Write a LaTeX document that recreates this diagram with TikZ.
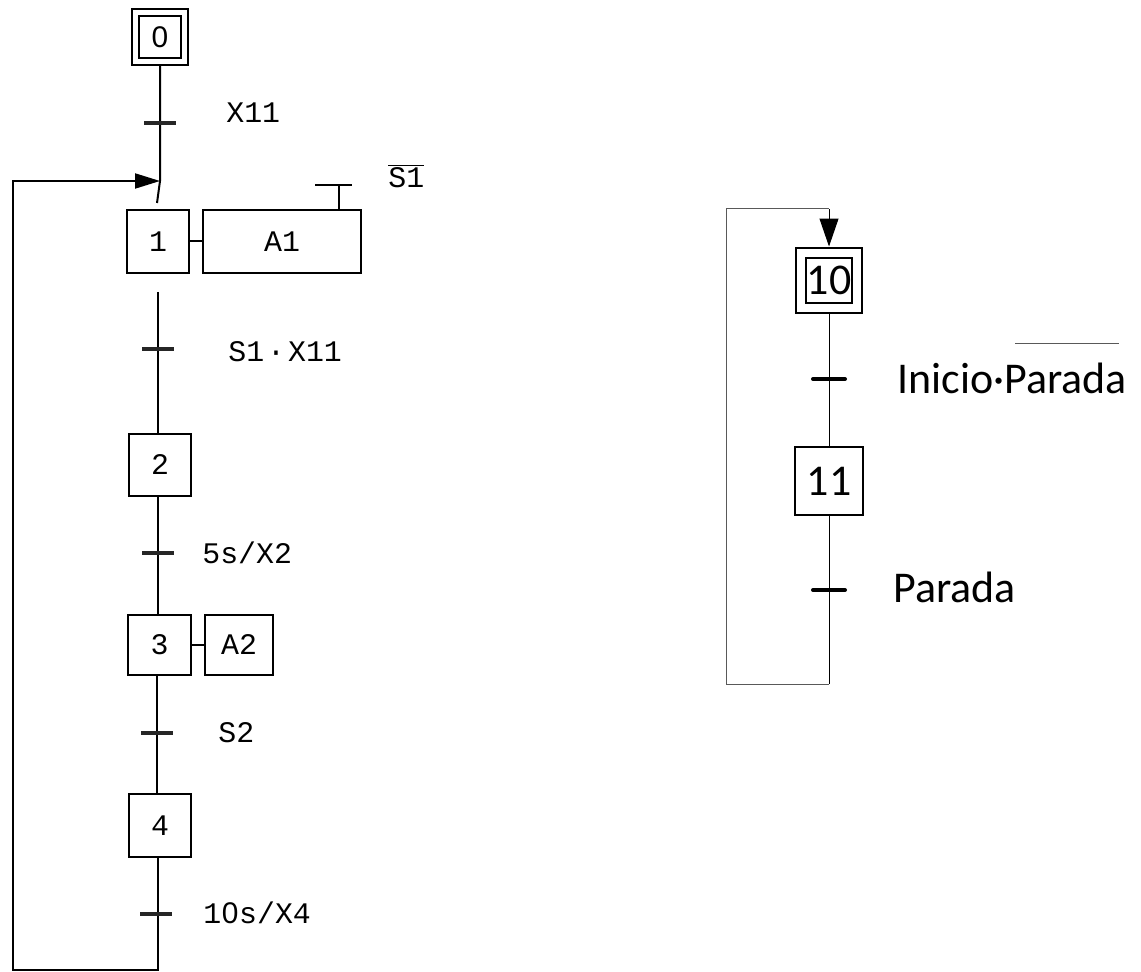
\documentclass[tikz,border=0pt]{standalone}
\usepackage{fontspec}
\usetikzlibrary{arrows.meta}
\newfontfamily\gfont{Liberation Mono}
\newfontfamily\zfont{Liberation Sans}
\newfontfamily\cfont{Carlito}
\newcommand\plainzero{\makebox[0.6em]{\zfont 0}}
\begin{document}
\begin{tikzpicture}[x=0.02cm,y=-0.02cm,
  gtext/.style={font=\gfont\fontsize{17}{20}\selectfont},
  ctext/.style={font=\cfont\fontsize{25}{30}\selectfont},
  stepL/.style={draw, line width=0.04cm, minimum width=1.26cm, minimum height=1.26cm, inner sep=0pt, gtext},
  initL/.style={draw, line width=0.04cm, double=white, double distance=0.1cm, minimum width=0.98cm, minimum height=0.98cm, outer sep=0.09cm, inner sep=0pt, gtext},
  actL/.style={draw, line width=0.04cm, minimum height=1.26cm, inner sep=0pt, gtext},
  stepR/.style={draw, line width=0.04cm, minimum width=1.36cm, minimum height=1.36cm, inner sep=0pt, ctext},
  initR/.style={draw, line width=0.04cm, double=white, double distance=0.16cm, minimum width=1.12cm, minimum height=1.12cm, outer sep=0.12cm, inner sep=0pt, ctext},
  linkL/.style={line width=0.04cm},
  linkR/.style={line width=0.02cm},
  loopR/.style={line width=0.02cm, draw=black!65},
  tbarL/.style={line width=0.07cm, draw=black!85},
  tbarR/.style={line width=0.08cm, line cap=round},
  lblL/.style={anchor=west, gtext, inner sep=0pt},
  lblR/.style={anchor=base west, ctext, inner sep=0pt}
]
\useasboundingbox (0,0) rectangle (1141,972);

% ---------------- left chart ----------------
\node[initL] (s0) at (160,37) {\plainzero};
\node[stepL] (s1) at (158,241.5) {1};
\node[actL, minimum width=3.16cm] (a1) at (282,241.5) {A1};
\node[stepL] (s2) at (160,465) {2};
\node[stepL, minimum height=1.2cm] (s3) at (159.5,645) {3};
\node[actL, minimum width=1.36cm, minimum height=1.2cm] (a2) at (239,645) {A2};
\node[stepL] (s4) at (160,825.5) {4};

\coordinate (j1) at (160,181);
\coordinate (e1) at (157,203);
\coordinate (b1) at (158,292);
\coordinate (c1) at (158,970);
\coordinate (c2) at (13,970);
\coordinate (c3) at (13,181);

\coordinate (t0) at (160,123);
\coordinate (t1) at (158,349);
\coordinate (t2) at (158,553);
\coordinate (t3) at (157,733);
\coordinate (t4) at (156,914);

\draw[linkL] (s0.south) -- (j1) -- (e1);
\draw[linkL] (b1) -- (b1 |- s2.north);
\draw[linkL] (s2.south -| t2) -- (s3.north -| t2);
\draw[linkL] (s3.south -| t3) -- (s4.north -| t3);
\draw[linkL, -{Triangle[length=0.5cm,width=0.3cm]}] (s4.south -| c1) -- (c1) -- (c2) -- (c3) -- (j1);
\draw[linkL] (s1.east) -- (a1.west);
\draw[linkL] (s3.east) -- (a2.west);

% qualifier on A1
\coordinate (r1) at (339,185);
\draw[linkL] (a1.north -| r1) -- (r1);
\draw[linkL] (r1) ++(-24,0) -- ++(37,0);
\node[lblL] (q1) at (388,176) {$\overline{\hbox{\gfont\fontsize{17}{20}\selectfont S1}}$};

\foreach \t in {t0,t1,t2,t3,t4} \draw[tbarL] (\t) ++(-16,0) -- ++(32,0);

\node[lblL] (l0) at (226,113) {X11};
\node[lblL] (l1) at (228,352) {S1\kern0.1em·\kern0.1emX11};
\node[lblL] (l2) at (202,553) {5s/X2};
\node[lblL] (l3) at (218,733) {S2};
\node[lblL] (l4) at (203,913) {1\plainzero s/X4};

% ---------------- right chart ----------------
\node[initR] (s10) at (829,280.5) {10};
\node[stepR] (s11) at (829,481) {11};
\coordinate (t10) at (829,379);
\coordinate (t11) at (829,590);
\coordinate (c4) at (829,684);
\coordinate (c5) at (726,684);
\coordinate (c6) at (726,209);
\coordinate (c7) at (829,209);

\draw[linkR] (s10.south) -- (s11.north);
\draw[linkR] (s11.south) -- (c4);
\draw[loopR] (c4) -- (c5) -- (c6) -- (c7);
\draw[linkR, -{Triangle[length=0.56cm,width=0.38cm]}] (c7) -- (s10.north);

\draw[tbarR] (t10) ++(-16,0) -- ++(32,0);
\draw[tbarR] (t11) ++(-16,0) -- ++(32,0);

\node[lblR] (l10) at (897,394) {Inicio·Parada};
\draw[loopR] (1015,344) -- (1119,344);
\node[lblR] (l11) at (893,602) {Parada};
\end{tikzpicture}
\end{document}
